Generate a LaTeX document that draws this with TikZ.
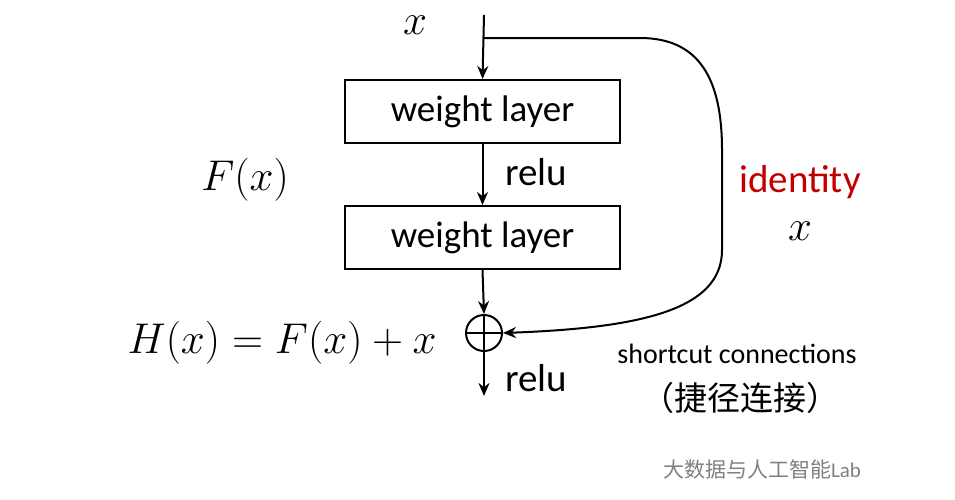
\documentclass[tikz,border=0pt]{standalone}
\usepackage{fix-cm}
\usepackage{fontspec}
\setmainfont{Carlito}
\newfontfamily\cjk{Noto Sans CJK SC}
\usetikzlibrary{arrows.meta}
\begin{document}
\begin{tikzpicture}[x=1pt,y=-1pt,
  box/.style={draw,line width=2pt,minimum width=275pt,minimum height=63pt,font=\fontsize{37}{40}\selectfont},
  arr/.style={line width=2pt,-{Stealth[length=13pt,width=11pt]}},
  lab/.style={font=\fontsize{39}{42}\selectfont},
  mth/.style={font=\fontsize{43}{46}\selectfont}]
\useasboundingbox (0,0) rectangle (955,499);
\coordinate (top) at (484,15);
\coordinate (br) at (484,38);
\node[box] (b1) at (482.5,111.5) {weight layer};
\node[box] (b2) at (482.5,237.5) {weight layer};
\node[circle,draw,line width=2pt,minimum size=36pt,inner sep=0pt] (p) at (484,333) {};
\draw[line width=2pt] (p.north) -- (p.south) (p.west) -- (p.east);
\coordinate (out) at (484,396);
\draw[arr] (top) -- (b1.north);
\draw[arr] (b1.south) -- (b2.north);
\draw[arr] (b2.south) -- (p.north);
\draw[arr] (p.south) -- (out);
\draw[arr] (br) -- (640,38) .. controls (700,38) and (722,80) .. (722,150) -- (722,250) .. controls (722,310) and (640,328) .. (p.east);
\node[mth] (x1) at (415,25) {$x$};
\node[lab] (r1) at (536,172) {relu};
\node[lab] (r2) at (536,378) {relu};
\node[mth] (f) at (245,180) {$F(x)$};
\node[mth,anchor=east] (h) at (440,343) {$H(x)=F(x)+x$};
\node[lab,text={rgb,255:red,192;green,0;blue,0}] (id) at (800,182) {identity};
\node[mth] (x2) at (800,231) {$x$};
\node[font=\fontsize{28}{30}\selectfont] (sc) at (737,354) {shortcut connections};
\node[font=\fontsize{33}{36}\selectfont] (cn) at (740,398) {{\cjk （捷径连接）}};
\node[font=\fontsize{21}{23}\selectfont,text=gray] (wm) at (762,470) {{\cjk 大数据与人工智能}Lab};
\end{tikzpicture}
\end{document}
